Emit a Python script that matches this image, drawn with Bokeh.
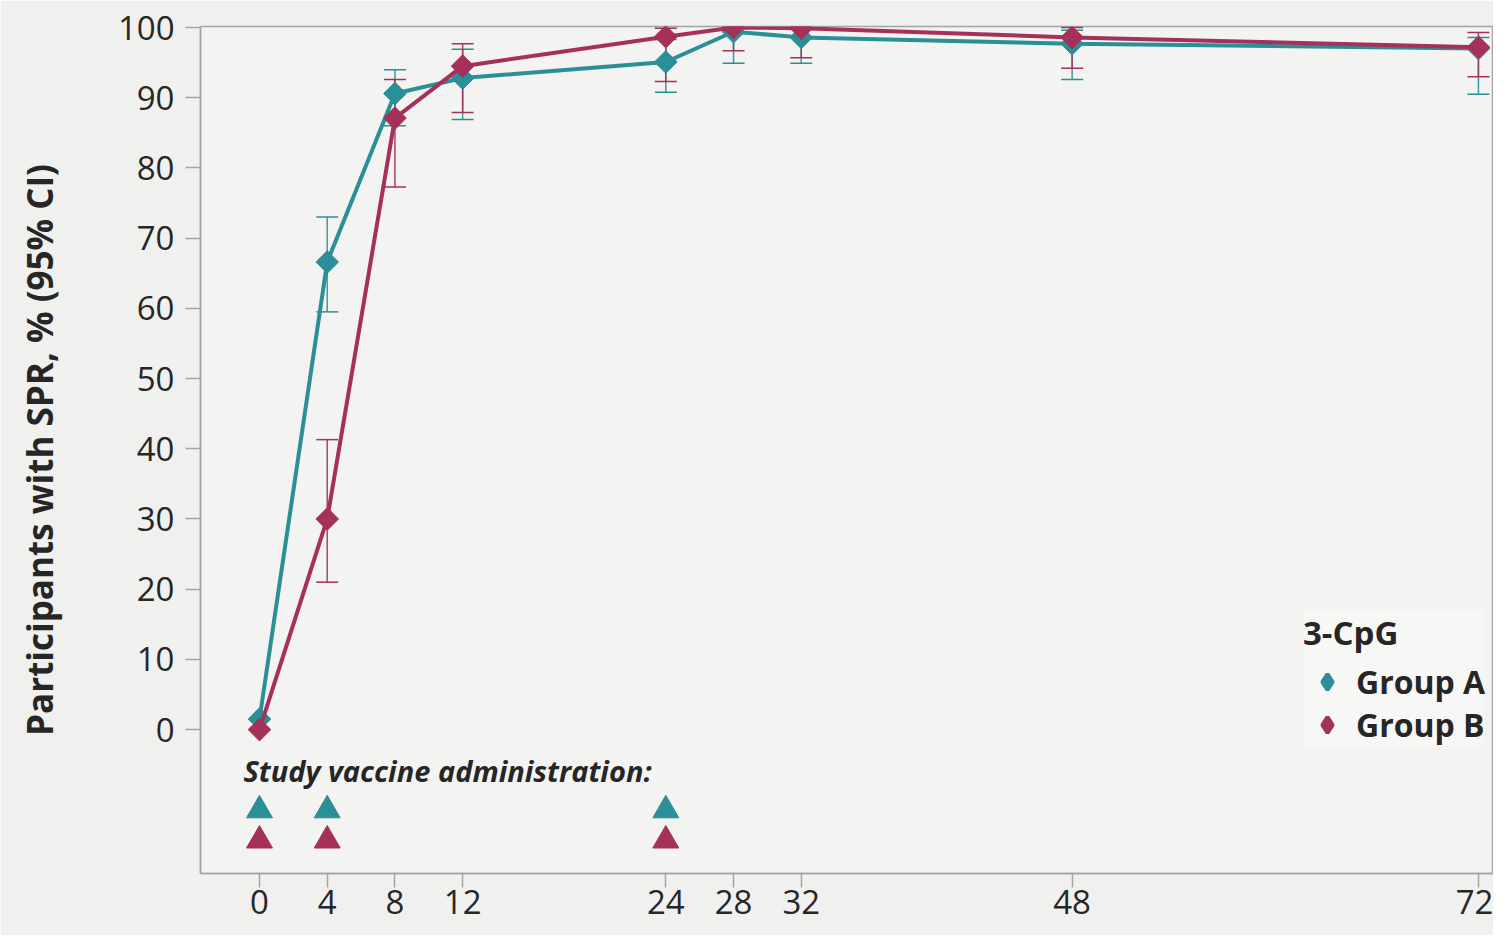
import math
from bokeh.plotting import figure
from bokeh.models import (ColumnDataSource, Whisker, TeeHead, Legend, LegendItem,
                          FixedTicker, Label, Range1d)
from bokeh.embed import file_html
from bokeh.resources import INLINE

nan = float("nan")

# ---- data ----
weeks = [0, 4, 8, 12, 24, 28, 32, 48, 72]
x_ticks = [0, 4, 8, 12, 24, 28, 32, 48, 72]
y_ticks = [0, 10, 20, 30, 40, 50, 60, 70, 80, 90, 100]

group_a = [1.5, 66.6, 90.6, 92.8, 95.1, 99.4, 98.6, 97.7, 97.0]
group_a_lo = [nan, 59.5, 86.0, 86.9, 90.8, 94.9, 94.9, 92.6, 90.5]
group_a_hi = [nan, 73.0, 94.0, 96.9, 98.3, 100.0, 100.0, 99.6, 98.6]

group_b = [0.0, 30.0, 87.1, 94.5, 98.7, 100.0, 99.9, 98.6, 97.2]
group_b_lo = [nan, 21.0, 77.3, 87.9, 92.3, 96.7, 95.7, 94.2, 93.0]
group_b_hi = [nan, 41.3, 92.6, 97.7, 99.9, 100.0, 100.0, 100.0, 99.3]

vaccine_weeks = [0, 4, 24]

series_names = ["Group A", "Group B"]
legend_title = "3-CpG"
y_label = "Participants with SPR, % (95% CI)"
admin_label = "Study vaccine administration:"

TEAL = "#2a8f96"
RED = "#a5305a"
FONT = "Open Sans"
BG = "#f0f0ee"
FRAME_BG = "#f3f3f1"
AXIS_GRAY = "#a4a4a4"
TEXT = "#262626"

p = figure(width=1493, height=935,
           x_range=Range1d(-3.485, 72.89), y_range=Range1d(-20.5, 100.15),
           output_backend="svg", toolbar_location=None,
           min_border_left=200, min_border_top=26, min_border_bottom=62,
           min_border_right=0)

p.background_fill_color = FRAME_BG
p.border_fill_color = BG
p.outline_line_color = AXIS_GRAY
p.outline_line_width = 1.5
p.xgrid.visible = False
p.ygrid.visible = False

# axes
p.xaxis.ticker = FixedTicker(ticks=x_ticks)
p.yaxis.ticker = FixedTicker(ticks=y_ticks)
for ax in (p.xaxis[0], p.yaxis[0]):
    ax.axis_line_color = AXIS_GRAY
    ax.axis_line_width = 1.5
    ax.major_tick_line_color = AXIS_GRAY
    ax.major_tick_line_width = 1.5
    ax.major_tick_in = 0
    ax.minor_tick_line_color = None
    ax.major_label_text_font = FONT
    ax.major_label_text_font_size = "33px"
    ax.major_label_text_color = TEXT

p.xaxis.major_tick_out = 14
p.xaxis.major_label_standoff = 2
p.yaxis.major_tick_out = 15
p.yaxis.major_label_standoff = 11

p.yaxis.axis_label = y_label
p.yaxis.axis_label_text_font = FONT
p.yaxis.axis_label_text_font_size = "35px"
p.yaxis.axis_label_text_font_style = "bold"
p.yaxis.axis_label_text_color = TEXT
p.yaxis.axis_label_standoff = 52

# sources
src_a = ColumnDataSource(dict(x=weeks, y=group_a, lo=group_a_lo, hi=group_a_hi))
src_b = ColumnDataSource(dict(x=weeks, y=group_b, lo=group_b_lo, hi=group_b_hi))

# error bars
for src, col in ((src_a, TEAL), (src_b, RED)):
    w = Whisker(source=src, base="x", lower="lo", upper="hi",
                line_color=col, line_width=1.5, line_alpha=0.9,
                upper_head=TeeHead(size=22, line_color=col, line_width=1.5),
                lower_head=TeeHead(size=22, line_color=col, line_width=1.5))
    p.add_layout(w)

ANG = math.pi / 4
# lines and markers (diamonds drawn as rotated squares)
p.line("x", "y", source=src_a, line_color=TEAL, line_width=4)
p.scatter("x", "y", source=src_a, marker="square", size=16, angle=ANG,
          fill_color=TEAL, line_color=TEAL)
p.line("x", "y", source=src_b, line_color=RED, line_width=4)
p.scatter("x", "y", source=src_b, marker="square", size=16, angle=ANG,
          fill_color=RED, line_color=RED)

# legend-only diamond renderers (no visible data)
la = p.scatter([nan], [nan], marker="diamond", size=16,
               fill_color=TEAL, line_color=TEAL, line_width=4)
lb = p.scatter([nan], [nan], marker="diamond", size=16,
               fill_color=RED, line_color=RED, line_width=4)

# vaccine administration markers
p.scatter(vaccine_weeks, [-11.5] * len(vaccine_weeks), marker="triangle",
          size=26, fill_color=TEAL, line_color=TEAL)
p.scatter(vaccine_weeks, [-15.8] * len(vaccine_weeks), marker="triangle",
          size=26, fill_color=RED, line_color=RED)

p.add_layout(Label(x=-0.95, y=-5.8, text=admin_label, text_font=FONT,
                   text_font_size="29px", text_font_style="bold italic",
                   text_baseline="alphabetic", text_color=TEXT))

legend = Legend(items=[LegendItem(label=series_names[0], renderers=[la]),
                       LegendItem(label=series_names[1], renderers=[lb])],
                location=(1103, 127),
                title=legend_title)
legend.title_text_font = FONT
legend.title_text_font_size = "33px"
legend.title_text_font_style = "bold"
legend.title_text_color = TEXT
legend.title_standoff = 5
legend.label_text_font = FONT
legend.label_text_font_size = "32px"
legend.label_text_font_style = "bold"
legend.label_text_color = TEXT
legend.background_fill_color = "#f7f7f5"
legend.background_fill_alpha = 1.0
legend.border_line_color = None
legend.padding = 4
legend.spacing = 0
legend.glyph_width = 48
legend.glyph_height = 39
legend.label_standoff = 5
legend.margin = 0
p.add_layout(legend)

open("out.html", "w").write(file_html(p, INLINE))
